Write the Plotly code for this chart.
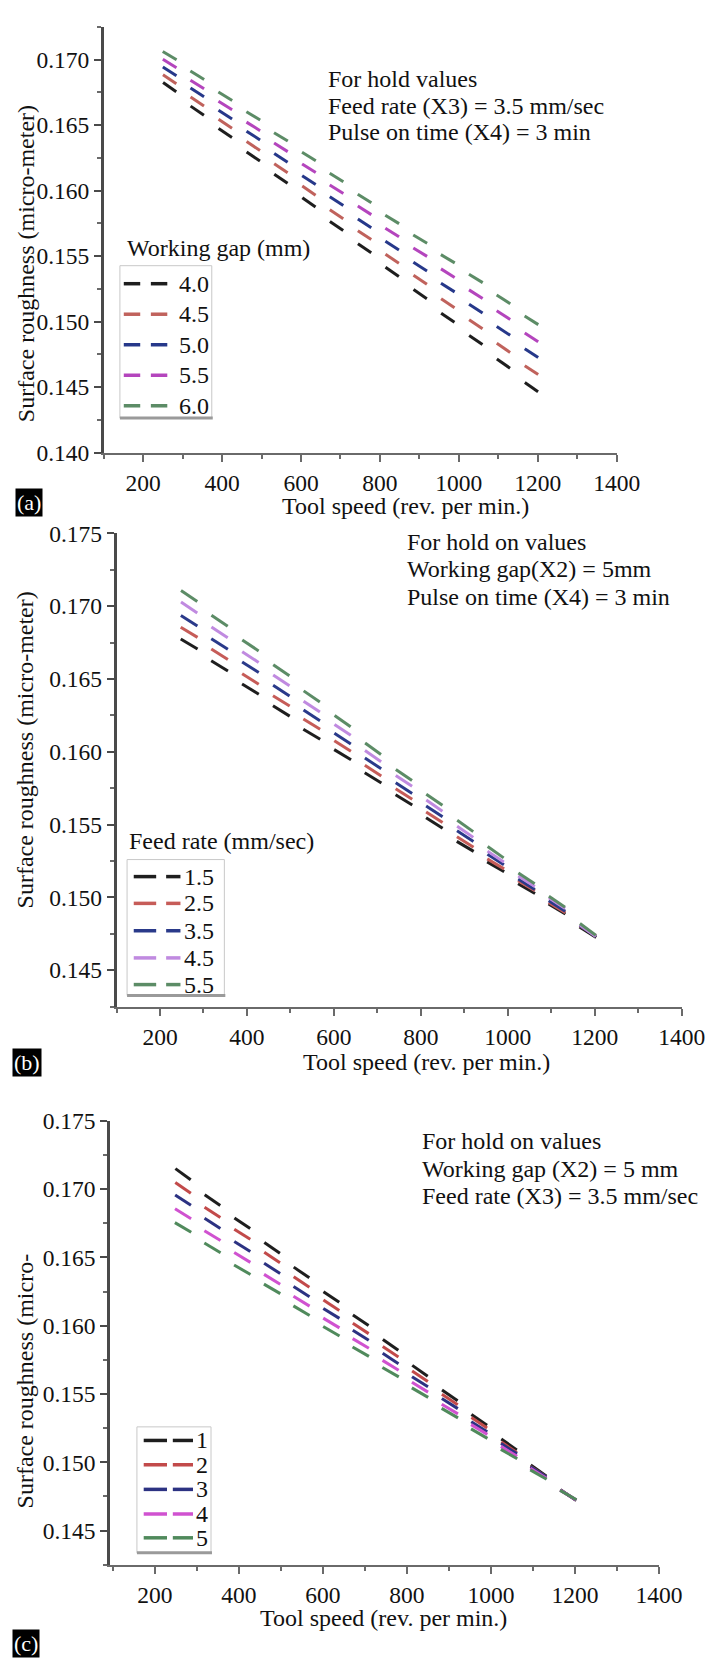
import math
import plotly.graph_objects as go

W, H = 728, 1665
FONT = "Liberation Serif, 'Times New Roman', Times, serif"

# ---------------- data ----------------
tool_speed = [267, 337, 408, 479, 549, 620, 690, 761, 831, 902, 972, 1043, 1113, 1184]

# (a) working gap (mm)
gap_labels = ["4.0", "4.5", "5.0", "5.5", "6.0"]
sr_a_40 = [0.1679, 0.1661, 0.1644, 0.1626, 0.1609, 0.1591, 0.1573, 0.1556, 0.1538, 0.1521, 0.1503, 0.1486, 0.1468, 0.1450]
sr_a_45 = [0.1685, 0.1668, 0.1651, 0.1634, 0.1617, 0.1600, 0.1582, 0.1566, 0.1548, 0.1532, 0.1514, 0.1498, 0.1480, 0.1463]
sr_a_50 = [0.1691, 0.1675, 0.1658, 0.1642, 0.1625, 0.1608, 0.1592, 0.1575, 0.1558, 0.1542, 0.1526, 0.1510, 0.1493, 0.1476]
sr_a_55 = [0.1697, 0.1681, 0.1665, 0.1649, 0.1633, 0.1617, 0.1601, 0.1585, 0.1568, 0.1553, 0.1537, 0.1521, 0.1505, 0.1488]
sr_a_60 = [0.1703, 0.1688, 0.1672, 0.1657, 0.1641, 0.1626, 0.1610, 0.1594, 0.1578, 0.1563, 0.1548, 0.1533, 0.1517, 0.1501]

# (b) feed rate (mm/sec)
feed_labels = ["1.5", "2.5", "3.5", "4.5", "5.5"]
sr_b_15 = [0.1674, 0.1659, 0.1643, 0.1628, 0.1612, 0.1598, 0.1582, 0.1567, 0.1551, 0.1535, 0.1521, 0.1506, 0.1492, 0.1476]
sr_b_25 = [0.1682, 0.1667, 0.1650, 0.1635, 0.1619, 0.1604, 0.1587, 0.1571, 0.1555, 0.1538, 0.1523, 0.1508, 0.1493, 0.1477]
sr_b_35 = [0.1690, 0.1674, 0.1658, 0.1642, 0.1625, 0.1609, 0.1592, 0.1575, 0.1559, 0.1542, 0.1526, 0.1509, 0.1494, 0.1477]
sr_b_45 = [0.1699, 0.1682, 0.1665, 0.1649, 0.1631, 0.1615, 0.1597, 0.1580, 0.1563, 0.1545, 0.1528, 0.1511, 0.1496, 0.1477]
sr_b_55 = [0.1707, 0.1690, 0.1673, 0.1656, 0.1638, 0.1621, 0.1602, 0.1584, 0.1567, 0.1549, 0.1531, 0.1513, 0.1497, 0.1478]

# (c) pulse on time
pulse_labels = ["1", "2", "3", "4", "5"]
sr_c_1 = [0.1711, 0.1692, 0.1675, 0.1657, 0.1639, 0.1621, 0.1604, 0.1586, 0.1567, 0.1549, 0.1531, 0.1513, 0.1494, 0.1476]
sr_c_2 = [0.1701, 0.1683, 0.1667, 0.1650, 0.1632, 0.1615, 0.1598, 0.1581, 0.1563, 0.1546, 0.1529, 0.1511, 0.1493, 0.1476]
sr_c_3 = [0.1692, 0.1675, 0.1658, 0.1642, 0.1625, 0.1609, 0.1593, 0.1576, 0.1559, 0.1543, 0.1526, 0.1510, 0.1493, 0.1476]
sr_c_4 = [0.1682, 0.1666, 0.1650, 0.1634, 0.1618, 0.1602, 0.1587, 0.1571, 0.1555, 0.1539, 0.1524, 0.1508, 0.1492, 0.1476]
sr_c_5 = [0.1672, 0.1657, 0.1641, 0.1627, 0.1611, 0.1596, 0.1581, 0.1566, 0.1551, 0.1536, 0.1521, 0.1506, 0.1491, 0.1476]

x_ticks = [200, 400, 600, 800, 1000, 1200, 1400]

# ---------------- styling / layout ----------------
colors_a = ["#1e1e1e", "#c0625c", "#26388a", "#b445bd", "#5c8c66"]
colors_b = ["#1e1e1e", "#c65c58", "#2a3a8a", "#c08ae0", "#5c8c66"]
colors_c = ["#1e1e1e", "#c24a4a", "#2c3282", "#d052d0", "#508a5c"]


def px(x):
    return x / W


def py(y):
    return 1 - y / H


panels = [
    dict(xd=(107.3, 637.7), yd=(14.0, 446.7), xr=(100, 1400), yr=(0.140, 0.1725),
         series=[sr_a_40, sr_a_45, sr_a_50, sr_a_55, sr_a_60], labels=gap_labels,
         colors=colors_a, size=11.5),
    dict(xd=(120.5, 705.0), yd=(528.6, 1009.3), xr=(100, 1400), yr=(0.1425, 0.175),
         series=[sr_b_15, sr_b_25, sr_b_35, sr_b_45, sr_b_55], labels=feed_labels,
         colors=colors_b, size=14),
    dict(xd=(113.7, 681.5), yd=(1125.5, 1576.3), xr=(93, 1400), yr=(0.1425, 0.175),
         series=[sr_c_1, sr_c_2, sr_c_3, sr_c_4, sr_c_5], labels=pulse_labels,
         colors=colors_c, size=13.5),
]

fig = go.Figure()


def dash_angles(xs, ys, xscale, yscale, flatten=0.88):
    out = []
    n = len(xs)
    for i in range(n):
        a, b = max(i - 1, 0), min(i + 1, n - 1)
        dx = (xs[b] - xs[a]) * xscale
        dy = (ys[b] - ys[a]) * yscale
        out.append(flatten * math.degrees(math.atan2(-dy, dx)))
    return out


for k, p in enumerate(panels):
    sfx = "" if k == 0 else str(k + 1)
    xscale = (p["xd"][1] - p["xd"][0]) / (p["xr"][1] - p["xr"][0])
    yscale = (p["yd"][1] - p["yd"][0]) / (p["yr"][1] - p["yr"][0])
    for s, lab, col in zip(p["series"], p["labels"], p["colors"]):
        fig.add_trace(go.Scatter(
            x=tool_speed, y=s, mode="markers", name=lab,
            xaxis="x" + sfx, yaxis="y" + sfx, showlegend=False,
            marker=dict(symbol="line-ew", size=p["size"],
                        angle=dash_angles(tool_speed, s, xscale, yscale),
                        line=dict(color=col, width=3)),
            hoverinfo="skip"))
    axis_common = dict(showgrid=False, zeroline=False, showline=True,
                       ticks="outside", ticklen=7, tickwidth=2,
                       tickfont=dict(family=FONT, size=23.5, color="#111"))
    fig.update_layout(**{
        "xaxis" + sfx: dict(axis_common, domain=[px(p["xd"][0]), px(p["xd"][1])],
                            range=list(p["xr"]), anchor="y" + sfx,
                            tickvals=x_ticks, linecolor="#6a6a6a", linewidth=2,
                            tickcolor="#6a6a6a", ticklabelstandoff=1,
                            minor=dict(dtick=100, tick0=100, ticks="outside", ticklen=4,
                                       tickwidth=2, tickcolor="#6a6a6a")),
        "yaxis" + sfx: dict(axis_common, domain=[py(p["yd"][1]), py(p["yd"][0])],
                            range=list(p["yr"]), anchor="x" + sfx,
                            dtick=0.005, tick0=0.14, tickformat=".3f",
                            linecolor="#4a4a4a", linewidth=2.5, tickcolor="#4a4a4a",
                            minor=dict(dtick=0.0025, tick0=0.14, ticks="outside", ticklen=4,
                                       tickwidth=2, tickcolor="#6a6a6a")),
    })

annotations = []
shapes = []


def text(x, y, s, size=24, xanchor="left", angle=0, color="#111", **kw):
    annotations.append(dict(x=px(x), y=py(y), xref="paper", yref="paper", text=s,
                            showarrow=False, xanchor=xanchor, yanchor="middle",
                            textangle=angle,
                            font=dict(family=FONT, size=size, color=color), **kw))


# hold-value notes
for (x0, ys, lines) in [
    (336.7, [67.0, 94.6, 121.2], ["For hold values", "Feed rate (X3) = 3.5 mm/sec",
                                  "Pulse on time (X4) = 3 min"]),
    (419.2, [537.2, 565.0, 592.9], ["For hold on values", "Working gap(X2) = 5mm",
                                    "Pulse on time (X4) = 3 min"]),
    (434.1, [1146.4, 1174.0, 1201.3], ["For hold on values", "Working gap (X2) = 5 mm",
                                       "Feed rate (X3) = 3.5 mm/sec"]),
]:
    for yy, ln in zip(ys, lines):
        text(x0, yy, ln)

# axis titles
text(27, 255, "Surface roughness (micro-meter)", angle=-90, xanchor="center")
text(26, 749, "Surface roughness (micro-meter)", angle=-90, xanchor="center")
text(26, 1390, "Surface roughness (micro-", angle=-90, xanchor="center")
text(419.5, 501, "Tool speed (rev. per min.)", xanchor="center")
text(441, 1066, "Tool speed (rev. per min.)", xanchor="center")
text(397, 1630, "Tool speed (rev. per min.)", xanchor="center")

# panel tags
for (cx, cy, tag) in [(30, 497.7, "(a)"), (27.5, 1066, "(b)"), (27, 1656, "(c)")]:
    text(cx, cy, tag, size=22, xanchor="center", color="#ffffff",
         bgcolor="#000000", borderpad=1)

# custom legends
legends = [
    dict(title="Working gap (mm)", tx=129, ty=238.3, box=(124, 256.7, 219, 411.5),
         items=[275, 306, 337, 368, 399], d1=(128, 145), d2=(156, 173), lx=183,
         labels=gap_labels, colors=colors_a),
    dict(title="Feed rate (mm/sec)", tx=131.4, ty=841.3, box=(131.4, 860, 232, 998),
         items=[877.3, 904.5, 932.3, 959.9, 987], d1=(138.3, 161.5), d2=(171.8, 186.6), lx=188,
         labels=feed_labels, colors=colors_b),
    dict(title=None, tx=0, ty=0, box=(141.6, 1436.3, 218.2, 1564.3),
         items=[1450.1, 1474.8, 1499.8, 1524.8, 1549], d1=(148.6, 172.7), d2=(178.7, 199.6), lx=200.6,
         labels=pulse_labels, colors=colors_c),
]
for L in legends:
    if L["title"]:
        text(L["tx"], L["ty"], L["title"])
    x0, y0, x1, y1 = L["box"]
    shapes.append(dict(type="rect", xref="paper", yref="paper",
                       x0=px(x0), x1=px(x1), y0=py(y1), y1=py(y0),
                       line=dict(color="#c8c8c8", width=1), fillcolor="rgba(0,0,0,0)"))
    shapes.append(dict(type="line", xref="paper", yref="paper",
                       x0=px(x0), x1=px(x1 + 1), y0=py(y1), y1=py(y1),
                       line=dict(color="#9a9a9a", width=3)))
    for yy, lab, col in zip(L["items"], L["labels"], L["colors"]):
        for (a, b) in (L["d1"], L["d2"]):
            shapes.append(dict(type="line", xref="paper", yref="paper",
                               x0=px(a), x1=px(b), y0=py(yy), y1=py(yy),
                               line=dict(color=col, width=3.5)))
        text(L["lx"], yy, lab)

fig.update_layout(width=W, height=H, margin=dict(l=0, r=0, t=0, b=0),
                  paper_bgcolor="white", plot_bgcolor="white",
                  showlegend=False, annotations=annotations, shapes=shapes)

fig.write_html("out.html", config={"displayModeBar": False},
               post_script="document.body.style.margin='0px';document.body.style.overflow='hidden';")
